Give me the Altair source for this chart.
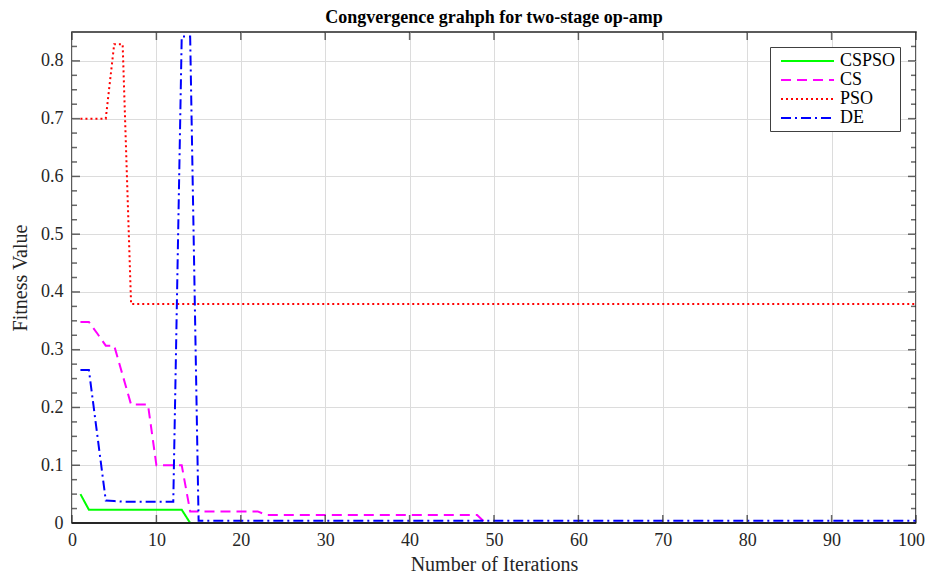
import altair as alt
import pandas as pd

# ---------------- data ----------------
iterations = list(range(1, 101))

cspso = [0.05] + [0.023] * 12 + [0.0] * 87
cs = ([0.348, 0.348, 0.328, 0.307, 0.307, 0.256, 0.205, 0.205, 0.205,
       0.1, 0.1, 0.1, 0.1] + [0.02] * 9 + [0.014] * 26 + [0.0] * 52)
pso = [0.7] * 4 + [0.829, 0.829] + [0.379] * 94
de = ([0.265, 0.265, 0.152, 0.039, 0.038] + [0.037] * 7 + [0.842, 0.842]
      + [0.004] * 86)

series_names = ["CSPSO", "CS", "PSO", "DE"]
series_values = [cspso, cs, pso, de]
series_colors = ["#00ff00", "#ff00ff", "#ff0000", "#0000ff"]
series_dash = [[1, 0], [10, 6], [2, 3], [10, 4, 2, 4]]

x_major = [0, 10, 20, 30, 40, 50, 60, 70, 80, 90, 100]
y_major = [0, 0.1, 0.2, 0.3, 0.4, 0.5, 0.6, 0.7, 0.8]
y_minor = [0.025, 0.05, 0.075, 0.125, 0.15, 0.175, 0.225, 0.25, 0.275,
           0.325, 0.35, 0.375, 0.425, 0.45, 0.475, 0.525, 0.55, 0.575,
           0.625, 0.65, 0.675, 0.725, 0.75, 0.775, 0.825]

title_text = "Congvergence grahph for two-stage op-amp"
x_title = "Number of Iterations"
y_title = "Fitness Value"

# ---------------- build ----------------
W, H = 844, 491
FONT = "Liberation Serif"
AX = "#262626"

rows = []
for name, vals in zip(series_names, series_values):
    for it, v in zip(iterations, vals):
        rows.append({"Iteration": it, "Fitness": v, "Algorithm": name})
df = pd.DataFrame(rows)

xscale = alt.Scale(domain=[0, 100], nice=False, zero=False)
yscale = alt.Scale(domain=[0, 0.85], nice=False, zero=False)

axis_style = dict(labelFont=FONT, titleFont=FONT, labelFontSize=18,
                  titleFontSize=20, titleFontWeight="normal",
                  labelColor=AX, titleColor=AX, gridColor="#dcdcdc",
                  gridWidth=1, grid=True, ticks=False, domain=False,
                  labelFlush=False)

x_axis = alt.Axis(values=x_major, title=x_title, labelPadding=8,
                  titlePadding=5,
                  labelOffset={"expr": "datum.value == 100 ? -5 : 0"},
                  **axis_style)
y_axis = alt.Axis(values=y_major, format="~g", title=y_title,
                  labelPadding=9, titlePadding=10, **axis_style)

legend = alt.Legend(
    orient="none", legendX=698, legendY=15,
    title=None,
    symbolType="M-0.333,0L5.556,0", symbolSize=324, symbolStrokeWidth=2,
    labelFont=FONT, labelFontSize=18, labelColor="#000000",
    strokeColor="#404040", fillColor="#ffffff", padding=4,
    rowPadding=0, labelOffset=46,
)

base = alt.Chart(df).encode(
    x=alt.X("Iteration:Q", scale=xscale, axis=x_axis),
    y=alt.Y("Fitness:Q", scale=yscale, axis=y_axis),
    color=alt.Color("Algorithm:N",
                    scale=alt.Scale(domain=series_names, range=series_colors),
                    legend=legend, title=None),
    strokeDash=alt.StrokeDash("Algorithm:N",
                              scale=alt.Scale(domain=series_names,
                                              range=series_dash),
                              legend=legend, title=None),
)

line_layers = [
    base.mark_line(strokeWidth=2, clip=True).transform_filter(
        alt.datum.Algorithm == name)
    for name in series_names
]

xt = pd.DataFrame({"v": x_major})
ymj = pd.DataFrame({"v": y_major})
ymn = pd.DataFrame({"v": y_minor})

def xticks(ypix):
    return alt.Chart(xt).mark_tick(size=8, thickness=1.5, color=AX).encode(
        x=alt.X("v:Q", scale=xscale, axis=x_axis), y=alt.value(ypix))

def yticks(data, xpix, size):
    return alt.Chart(data).mark_tick(size=size, thickness=1.5, color=AX).encode(
        y=alt.Y("v:Q", scale=yscale, axis=y_axis), x=alt.value(xpix))

bottom_rule = alt.Chart(pd.DataFrame({"v": [0]})).mark_rule(
    color=AX, strokeWidth=2).encode(y=alt.Y("v:Q", scale=yscale, axis=y_axis))

chart = alt.layer(
    *line_layers,
    xticks(H - 4), xticks(4),
    yticks(ymj, 4, 8), yticks(ymn, 2.5, 5),
    yticks(ymj, W - 4, 8), yticks(ymn, W - 2.5, 5),
    bottom_rule,
).properties(
    width=W, height=H,
    title=alt.TitleParams(title_text, font=FONT, fontSize=18,
                          fontWeight="bold", color="#000000",
                          anchor="middle", offset=5),
    autosize=alt.AutoSizeParams(type="none"),
    padding={"left": 64, "top": 24, "right": 9, "bottom": 52},
).configure_view(
    stroke=AX, strokeWidth=1.5
)

chart.save("out.html", embed_options={"renderer": "svg", "actions": False})
